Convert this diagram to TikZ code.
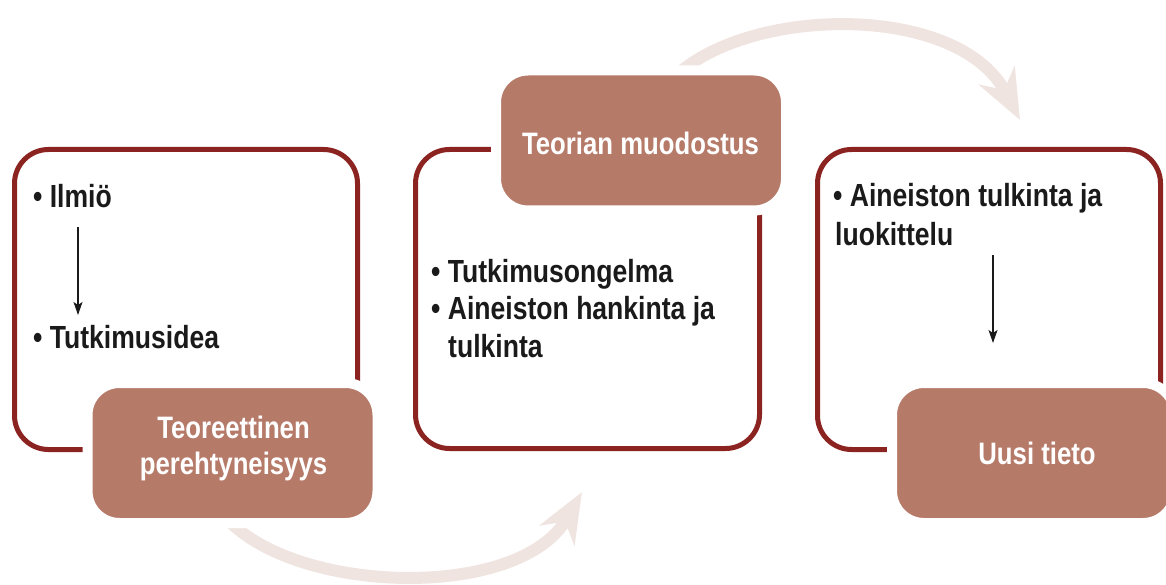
\documentclass[tikz,border=0pt]{standalone}
\usepackage{fontspec}
\setmainfont{Liberation Sans}[FakeStretch=0.83]
\usetikzlibrary{arrows.meta}
\definecolor{framered}{HTML}{8B2320}
\definecolor{tilebrown}{HTML}{B67A69}
\definecolor{flowpink}{HTML}{F0E4E0}
\definecolor{ink}{HTML}{1A1A1A}

\begin{document}
\begin{tikzpicture}[x=1pt,y=-1pt,
  panel/.style={draw=framered, line width=5pt, rounded corners=34pt,
    inner sep=0pt, outer sep=0pt},
  tile/.style={fill=tilebrown, draw=white, line width=10pt, rounded corners=32pt,
    inner sep=0pt, outer sep=0pt, minimum width=290pt, minimum height=140pt},
  tiletext/.style={text=white, font=\bfseries\fontsize{31}{36}\selectfont,
    align=center, inner sep=0pt},
  item/.style={text=ink, font=\bfseries\fontsize{32}{38}\selectfont,
    anchor=base west, inner sep=0pt},
  flow/.style={draw=flowpink, line width=12pt,
    -{Stealth[length=50pt, width=40pt, inset=16pt]}},
  step arrow/.style={draw=ink, line width=1.2pt,
    -{Stealth[length=13pt, width=9pt, inset=3pt]}}]

\useasboundingbox (0,0) rectangle (1166,585);

% end points of the two curved flow arrows
\coordinate (f1s) at (228,520);
\coordinate (f1e) at (582,492);
\coordinate (f2s) at (680,72);
\coordinate (f2e) at (1020,120);

% curved flow arrows behind everything
\draw[flow] (f1s) .. controls (300,595) and (520,600) .. (f1e);
\draw[flow] (f2s) .. controls (760,5) and (960,5) .. (f2e);

% outlined panels
\node[panel, minimum width=343pt, minimum height=300pt] (p1) at (186,299.5) {};
\node[panel, minimum width=344pt, minimum height=299pt] (p2) at (587.5,299) {};
\node[panel, minimum width=343pt, minimum height=300pt] (p3) at (989,299.5) {};

% filled title tiles
\node[tile] (t1) at (232.5,453) {};
\node[tile] (t2) at (641,140.5) {};
\node[tile, minimum width=283pt] (t3) at (1033.5,453) {};

\node[tiletext] (t1txt) at (233.5,448) {Teoreettinen\\perehtyneisyys};
\node[tiletext, anchor=base] (t2txt) at (640.5,155) {Teorian muodostus};
\node[tiletext, anchor=base] (t3txt) at (1037,464) {Uusi tieto};

% first panel
\node[item] (i1) at (33,208) {• Ilmiö};
\node[item] (i2) at (33,348) {• Tutkimusidea};
\coordinate (a1s) at (78,227);
\coordinate (a1e) at (78,315);
\draw[step arrow] (a1s) -- (a1e);

% second panel
\node[item] (j1) at (431,282) {• Tutkimusongelma};
\node[item] (j2) at (431,319) {• Aineiston hankinta ja};
\node[item] (j3) at (448,357) {tulkinta};

% third panel
\node[item] (k1) at (833,207) {• Aineiston tulkinta ja};
\node[item] (k2) at (835,245) {luokittelu};
\coordinate (a3s) at (993,255);
\coordinate (a3e) at (993,343);
\draw[step arrow] (a3s) -- (a3e);

\end{tikzpicture}
\end{document}
